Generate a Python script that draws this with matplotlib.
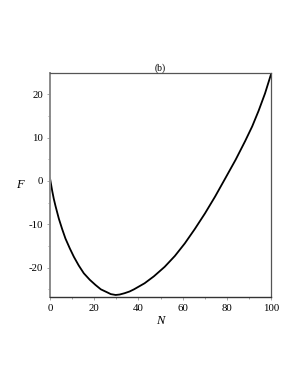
import matplotlib
matplotlib.use('Agg')
import matplotlib.pyplot as plt
from matplotlib.ticker import MultipleLocator

# values
n_vals = [0, 1.0, 1.7, 2.5, 4.0, 5.5, 7.0, 9.0, 10.8, 13.0, 15.3, 18.0, 20.6,
          23.0, 25.9, 27.5, 29.7, 31.5, 33.7, 36.0, 38.0, 42.8, 47.0, 51.9,
          56.5, 61.0, 65.5, 70.1, 74.7, 79.2, 84.0, 88.3, 91.5, 94.4, 97.3, 100]
f_vals = [0.6, -2.3, -4.1, -5.8, -8.7, -11.1, -13.3, -15.6, -17.5, -19.5, -21.3,
          -22.8, -24.0, -25.0, -25.7, -26.1, -26.3, -26.2, -25.9, -25.5, -25.0,
          -23.6, -22.0, -19.8, -17.3, -14.4, -11.1, -7.5, -3.6, 0.5, 4.9, 9.2,
          12.6, 16.2, 20.2, 24.6]

x_ticks = [0, 20, 40, 60, 80, 100]
y_ticks = [-20, -10, 0, 10, 20]

plt.rcParams['font.family'] = ['Liberation Serif', 'DejaVu Serif']
plt.rcParams['axes.unicode_minus'] = False

fig = plt.figure(figsize=(3.0, 3.88), dpi=100)
ax = fig.add_axes([0.1667, 0.2353, 0.7366, 0.5753])

ax.plot(n_vals, f_vals, color='black', linewidth=1.3, solid_joinstyle='round')

ax.set_xlim(0, 100)
ax.set_ylim(-26.7, 24.8)
ax.set_xticks(x_ticks)
ax.set_yticks(y_ticks)
ax.xaxis.set_minor_locator(MultipleLocator(10))
ax.yaxis.set_minor_locator(MultipleLocator(5))
ax.tick_params(which='both', direction='out', length=2, width=0.6, color='#999999',
               labelsize=7.8, pad=3)
ax.tick_params(which='minor', length=1.5)

ax.spines['left'].set_color('#8a8a8a')
ax.spines['left'].set_linewidth(1.4)
ax.spines['bottom'].set_color('#333333')
ax.spines['bottom'].set_linewidth(1.0)
for side in ('top', 'right'):
    ax.spines[side].set_color('#555555')
    ax.spines[side].set_linewidth(0.9)

ax.set_title('(b)', fontsize=7, pad=1)
ax.set_xlabel('N', fontsize=9, style='italic', labelpad=2)
ax.set_ylabel('F', fontsize=9, style='italic', rotation=0, labelpad=6, va='center')

fig.savefig('out.png', dpi=100)
